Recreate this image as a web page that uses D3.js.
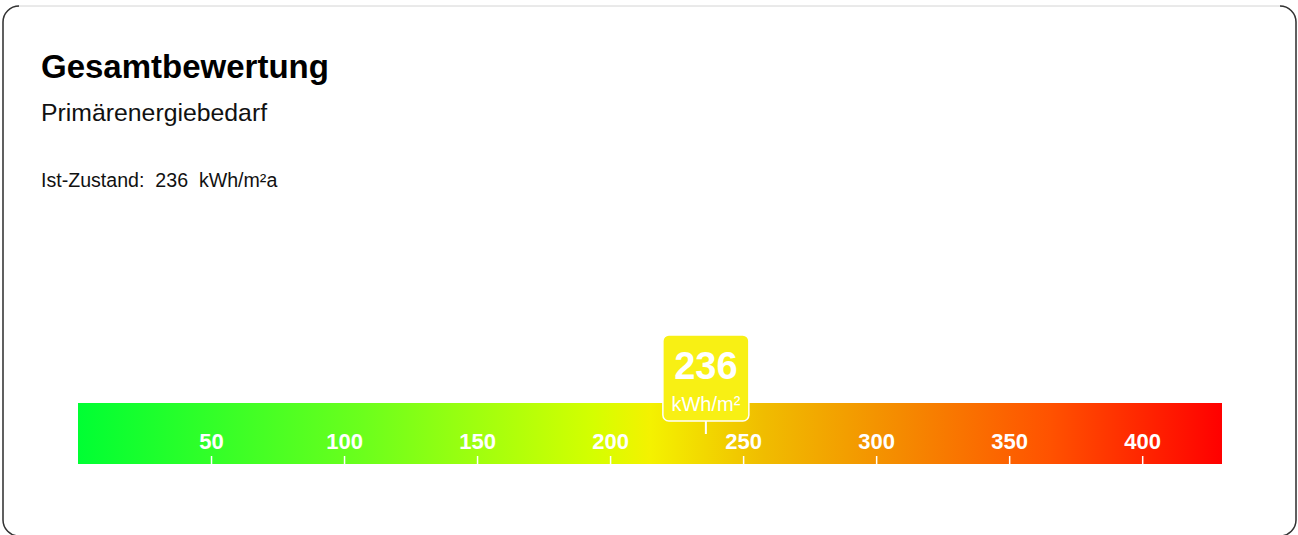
<!DOCTYPE html>
<html><head><meta charset="utf-8">
<script src="https://cdn.jsdelivr.net/npm/d3@7"></script>
<style>html,body{margin:0;padding:0;background:#fff;}svg{display:block;}</style>
</head><body><div id="chart"></div>
<script>
const title = "Gesamtbewertung";
const subtitle = "Primärenergiebedarf";
const statusLabel = "Ist-Zustand:";
const currentValue = 236;
const unitShort = "kWh/m²";
const unitLong = "kWh/m²a";
const scaleDomain = [0, 430];
const tickValues = [50, 100, 150, 200, 250, 300, 350, 400];
const gradientOffsets = [0, 0.25, 0.45, 0.5, 0.6, 0.72, 0.85, 1];
const gradientColors = ["#00ff33", "#6cff1c", "#d4ff00", "#f4f200", "#f0bc00", "#f58a00", "#ff5200", "#ff0000"];

const W = 1298, H = 535;
const svg = d3.select("#chart").append("svg").attr("width", W).attr("height", H);
const font = "'Liberation Sans', Arial, sans-serif";

// card
const cx = 3, cy = 6, cw = 1293, ch = 530, r = 16;
svg.append("rect").attr("x", cx).attr("y", cy).attr("width", cw).attr("height", ch)
  .attr("rx", r).attr("fill", "#fff").attr("stroke", "#d4d4d4").attr("stroke-width", 1);
const side = (x0, dir) => {
  const p = d3.path();
  p.moveTo(x0 + dir * r, cy);
  p.arcTo(x0, cy, x0, cy + r, r);
  p.lineTo(x0, cy + ch - r);
  p.arcTo(x0, cy + ch, x0 + dir * r, cy + ch, r);
  return p.toString();
};
svg.append("path").attr("d", side(cx, 1)).attr("fill", "none").attr("stroke", "#333").attr("stroke-width", 1.5);
svg.append("path").attr("d", side(cx + cw, -1)).attr("fill", "none").attr("stroke", "#333").attr("stroke-width", 1.5);

// texts
svg.append("text").attr("x", 41).attr("y", 78).text(title)
  .attr("font-family", font).attr("font-weight", "bold").attr("font-size", 33).attr("fill", "#000");
svg.append("text").attr("x", 41).attr("y", 121).text(subtitle)
  .attr("font-family", font).attr("font-size", 24.8).attr("fill", "#111");
svg.append("text").attr("x", 41).attr("y", 187)
  .attr("xml:space", "preserve").style("white-space", "pre")
  .text(statusLabel + "  " + currentValue + "  " + unitLong)
  .attr("font-family", font).attr("font-size", 19.6).attr("fill", "#111");

// scale bar
const x = d3.scaleLinear().domain(scaleDomain).range([78, 1222]);
const barTop = 403, barBottom = 464;
const defs = svg.append("defs");
const grad = defs.append("linearGradient").attr("id", "barGrad")
  .attr("x1", "0%").attr("x2", "100%").attr("y1", "0%").attr("y2", "0%");
gradientOffsets.forEach((o, i) => grad.append("stop").attr("offset", o).attr("stop-color", gradientColors[i]));
svg.append("rect").attr("x", x(scaleDomain[0])).attr("y", barTop)
  .attr("width", x(scaleDomain[1]) - x(scaleDomain[0])).attr("height", barBottom - barTop)
  .attr("fill", "url(#barGrad)");

const axis = d3.axisTop(x).tickValues(tickValues).tickSize(8).tickPadding(7).tickFormat(d3.format("d"));
const gAxis = svg.append("g").attr("transform", `translate(0,${barBottom})`).call(axis);
gAxis.select(".domain").remove();
gAxis.selectAll(".tick line").attr("stroke", "#fff").attr("stroke-width", 1.5);
gAxis.selectAll(".tick text").attr("fill", "#fff").attr("font-family", font)
  .attr("font-weight", "bold").attr("font-size", 22);

// marker
const mx = x(currentValue);
svg.append("line").attr("x1", mx).attr("x2", mx).attr("y1", 420).attr("y2", 434)
  .attr("stroke", "#fff").attr("stroke-width", 2);
svg.append("rect").attr("x", mx - 43).attr("y", 335).attr("width", 86).attr("height", 86)
  .attr("rx", 6).attr("fill", "#f8f014").attr("stroke", "#fff").attr("stroke-width", 1.5);
svg.append("text").attr("x", mx).attr("y", 379).attr("text-anchor", "middle").text(currentValue)
  .attr("font-family", font).attr("font-weight", "bold").attr("font-size", 38).attr("fill", "#fff");
svg.append("text").attr("x", mx).attr("y", 411).attr("text-anchor", "middle").text(unitShort)
  .attr("font-family", font).attr("font-size", 20).attr("fill", "#fff");
</script></body></html>
